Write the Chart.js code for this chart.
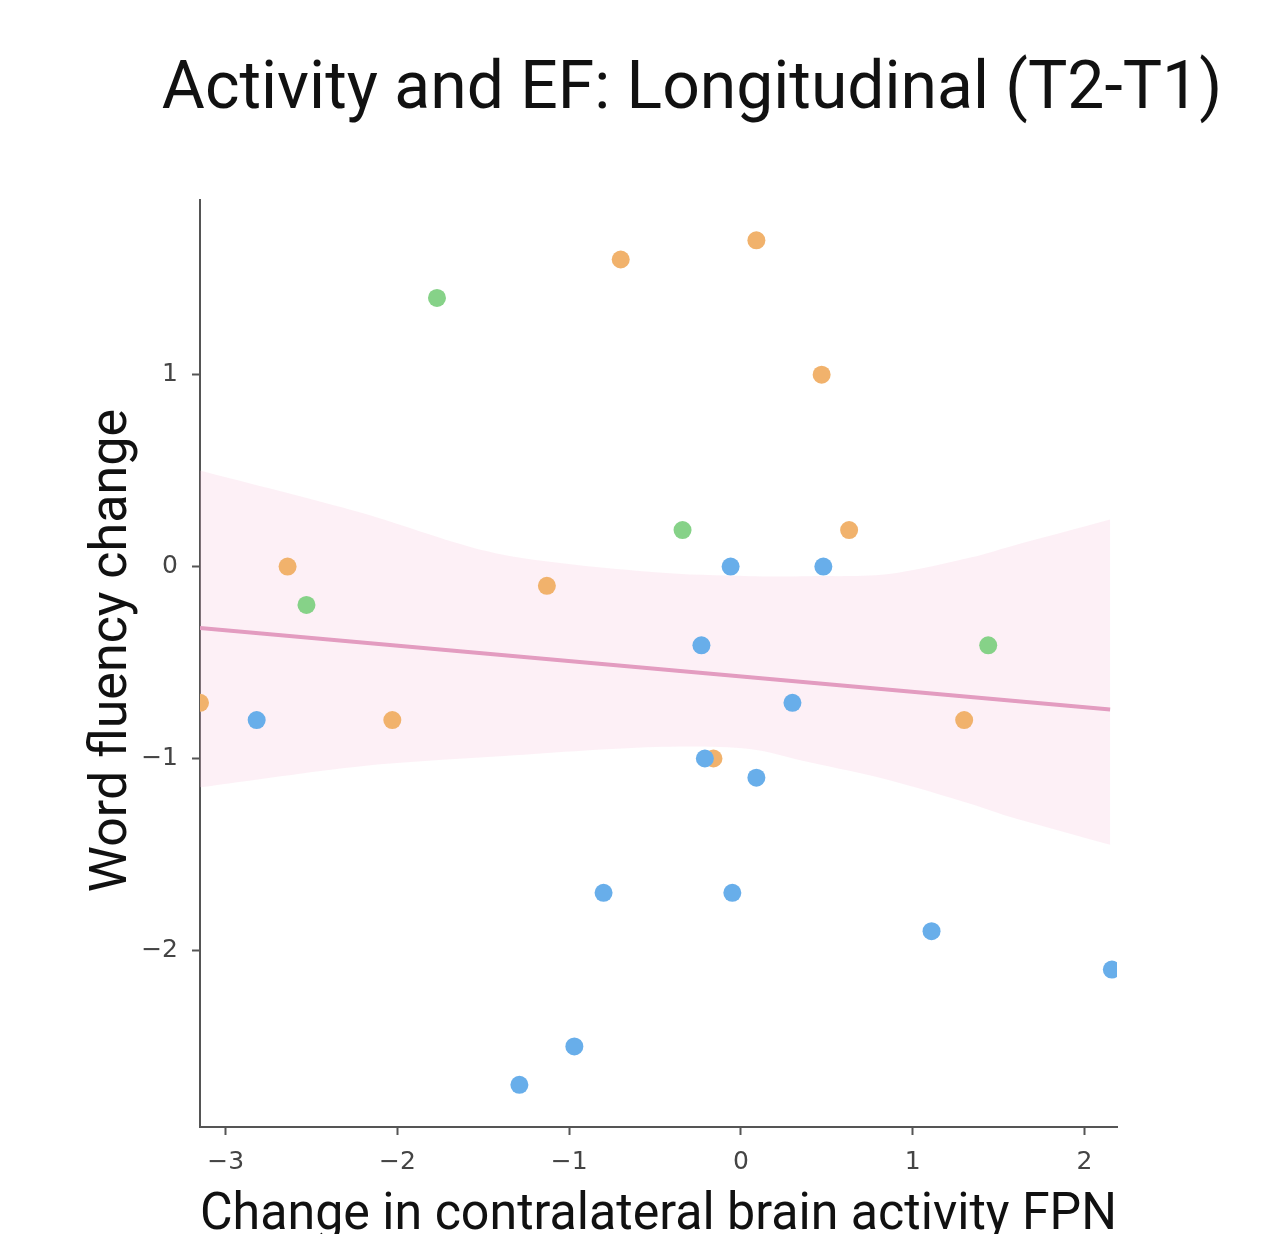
<!DOCTYPE html>
<html>
<head>
<meta charset="utf-8">
<script src="https://cdn.jsdelivr.net/npm/chart.js@4/dist/chart.umd.min.js"></script>
<style>
    html, body { margin: 0; padding: 0; background: #ffffff; }
    #wrap { width: 1274px; height: 1234px; }
</style>
</head>
<body>
<div id="wrap"><canvas id="scatterChart" width="1274" height="1234"></canvas></div>
<script>
// 図のデータ
const orangeX = [0.09, -0.70, 0.47, 0.63, -2.64, -1.13, -3.15, -2.03, 1.30, -0.16];
const orangeY = [1.70, 1.60, 1.00, 0.19, 0.00, -0.10, -0.71, -0.80, -0.80, -1.00];

const greenX  = [-1.77, -0.34, -2.53, 1.44];
const greenY  = [1.40, 0.19, -0.20, -0.41];

const blueX   = [-0.06, 0.48, -0.23, -2.82, 0.30, -0.21, 0.09, -0.80, -0.05, 1.11, 2.16, -0.97, -1.29];
const blueY   = [0.00, 0.00, -0.41, -0.80, -0.71, -1.00, -1.10, -1.70, -1.70, -1.90, -2.10, -2.50, -2.70];

// 回帰直線
const lineX   = [-3.15, 2.15];
const lineY   = [-0.32, -0.745];

// 信頼区間の帯（上端・下端）
const bandX     = [-3.15, -2.21, -1.43, -0.50, 0.05, 0.40, 0.85, 1.35, 1.55, 2.15];
const bandUpper = [0.50, 0.28, 0.07, -0.03, -0.05, -0.05, -0.04, 0.05, 0.10, 0.245];
const bandLower = [-1.15, -1.04, -0.99, -0.94, -0.95, -1.02, -1.11, -1.24, -1.30, -1.45];

// 目盛り
const xTicks = [-3, -2, -1, 0, 1, 2];
const yTicks = [-2, -1, 0, 1];

const titleText  = 'Activity and EF: Longitudinal (T2-T1)';
const xAxisTitle = 'Change in contralateral brain activity FPN';
const yAxisTitle = '  Word fluency change';

// x と y の配列を点のリストにする
function toPoints(xs, ys) {
    return xs.map(function(x, i) {
        return { x: x, y: ys[i] };
    });
}

function minusLabel(v) {
    return v < 0 ? '\u2212' + Math.abs(v) : String(v);
}

// タイトルを描く小さなプラグイン
const titlePlugin = {
    id: 'topTitle',
    afterDraw: function(chart) {
        const ctx = chart.ctx;
        ctx.save();
        ctx.font = '400 66px Roboto';
        ctx.fillStyle = '#111111';
        ctx.textAlign = 'center';
        ctx.textBaseline = 'alphabetic';
        ctx.fillText(titleText, 692, 108);
        ctx.restore();
    }
};

const pointStyle = function(color) {
    return {
        type: 'scatter',
        pointRadius: 9,
        pointHoverRadius: 9,
        pointBackgroundColor: color,
        pointBorderWidth: 0,
        showLine: false,
        clip: 0,
        order: 0
    };
};

const ctx = document.getElementById('scatterChart').getContext('2d');
new Chart(ctx, {
    type: 'scatter',
    data: {
        datasets: [
            Object.assign({ label: 'blue',   data: toPoints(blueX, blueY) },     pointStyle('#68aeea')),
            Object.assign({ label: 'orange', data: toPoints(orangeX, orangeY) }, pointStyle('#f1b26c')),
            Object.assign({ label: 'green',  data: toPoints(greenX, greenY) },   pointStyle('#86d288')),
            {
                label: 'fit',
                type: 'line',
                data: toPoints(lineX, lineY),
                borderColor: '#e39cc0',
                borderWidth: 4,
                pointRadius: 0,
                fill: false,
                clip: 0,
                order: 1
            },
            {
                label: 'upper',
                type: 'line',
                data: toPoints(bandX, bandUpper),
                borderWidth: 0,
                borderColor: 'rgba(0,0,0,0)',
                backgroundColor: 'rgba(246,196,218,0.25)',
                pointRadius: 0,
                tension: 0.3,
                fill: '+1',
                clip: 0,
                order: 2
            },
            {
                label: 'lower',
                type: 'line',
                data: toPoints(bandX, bandLower),
                borderWidth: 0,
                borderColor: 'rgba(0,0,0,0)',
                pointRadius: 0,
                tension: 0.3,
                fill: false,
                clip: 0,
                order: 3
            }
        ]
    },
    options: {
        responsive: false,
        animation: false,
        layout: {
            padding: { left: 0, right: 157, top: 200, bottom: 0 }
        },
        plugins: {
            legend: { display: false },
            tooltip: { enabled: false },
            title: { display: false }
        },
        scales: {
            x: {
                type: 'linear',
                min: -3.15,
                max: 2.19,
                afterFit: function(scale) { scale.height = 107; },
                afterBuildTicks: function(scale) {
                    scale.ticks = xTicks.map(function(v) { return { value: v }; });
                },
                border: { display: true, color: '#555555', width: 2 },
                grid: {
                    display: true,
                    drawOnChartArea: false,
                    drawTicks: true,
                    tickLength: 8,
                    tickWidth: 2,
                    tickColor: '#555555'
                },
                ticks: {
                    includeBounds: false,
                    autoSkip: false,
                    maxRotation: 0,
                    padding: 12,
                    color: '#444444',
                    font: { family: 'DejaVu Sans', size: 25 },
                    callback: minusLabel
                },
                title: {
                    display: true,
                    text: xAxisTitle,
                    color: '#111111',
                    font: { family: 'Roboto', size: 52, lineHeight: 1 },
                    padding: { top: 0, bottom: -8 }
                }
            },
            y: {
                type: 'linear',
                min: -2.92,
                max: 1.91,
                afterFit: function(scale) { scale.width = 200; },
                afterBuildTicks: function(scale) {
                    scale.ticks = yTicks.map(function(v) { return { value: v }; });
                },
                border: { display: true, color: '#555555', width: 2 },
                grid: {
                    display: true,
                    drawOnChartArea: false,
                    drawTicks: true,
                    tickLength: 8,
                    tickWidth: 2,
                    tickColor: '#555555'
                },
                ticks: {
                    includeBounds: false,
                    autoSkip: false,
                    padding: 14,
                    color: '#444444',
                    font: { family: 'DejaVu Sans', size: 25 },
                    callback: minusLabel
                },
                title: {
                    display: true,
                    text: yAxisTitle,
                    color: '#111111',
                    font: { family: 'Roboto', size: 52, lineHeight: 1 },
                    padding: { top: 87, bottom: 0 }
                }
            }
        }
    },
    plugins: [titlePlugin]
});
</script>
</body>
</html>
